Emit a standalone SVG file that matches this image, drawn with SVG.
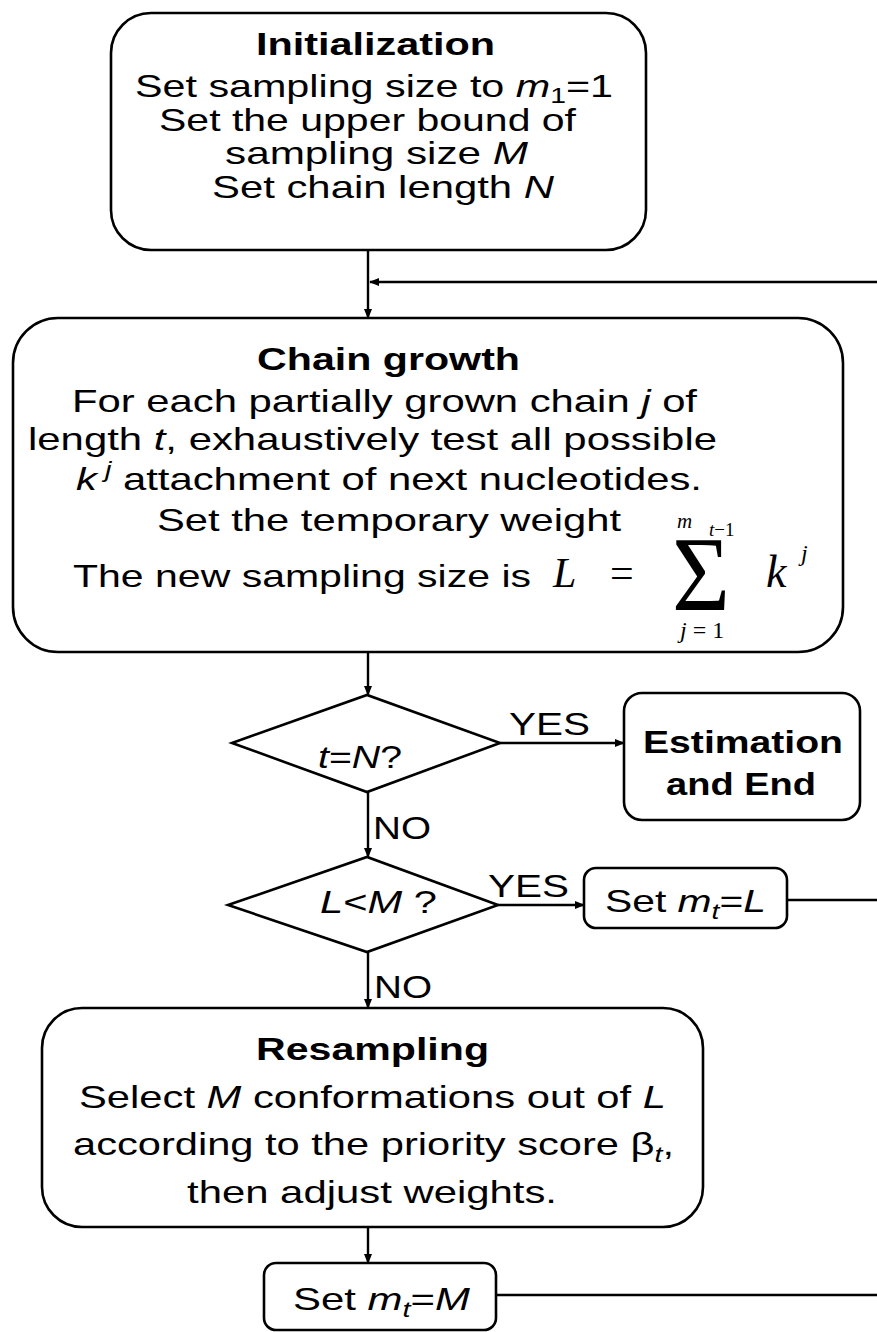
<svg xmlns="http://www.w3.org/2000/svg" width="877" height="1332" viewBox="0 0 877 1332">
<style>
.box{fill:#fff;stroke:#000;stroke-width:2.6}
.ln{fill:none;stroke:#000;stroke-width:2.4}
.t{font-family:"Liberation Sans",Arial,sans-serif;font-size:32px;fill:#000}
.b{font-weight:bold}
.i{font-style:italic}
.m{font-family:"Liberation Serif","Times New Roman",serif;fill:#000}
</style>
<defs>
<marker id="ah" markerWidth="10" markerHeight="8" refX="9" refY="4" orient="auto" markerUnits="userSpaceOnUse">
<path d="M0,0 L10,4 L0,8 Z" fill="#000"/>
</marker>
</defs>
<g id="connectors">
<line class="ln" x1="368" y1="250" x2="368" y2="318" marker-end="url(#ah)"/>
<line class="ln" x1="877" y1="282" x2="370" y2="282" marker-end="url(#ah)"/>
<line class="ln" x1="368" y1="652" x2="368" y2="695" marker-end="url(#ah)"/>
<line class="ln" x1="500" y1="743" x2="624" y2="743" marker-end="url(#ah)"/>
<line class="ln" x1="368" y1="792" x2="368" y2="857" marker-end="url(#ah)"/>
<line class="ln" x1="498" y1="905" x2="584" y2="905" marker-end="url(#ah)"/>
<line class="ln" x1="787" y1="900" x2="877" y2="900"/>
<line class="ln" x1="368" y1="952" x2="368" y2="1008" marker-end="url(#ah)"/>
<line class="ln" x1="368" y1="1227" x2="368" y2="1263" marker-end="url(#ah)"/>
<line class="ln" x1="496" y1="1295" x2="877" y2="1295"/>
<text class="t" x="509" y="735" textLength="81" lengthAdjust="spacingAndGlyphs">YES</text>
<text class="t" x="373" y="839" textLength="58" lengthAdjust="spacingAndGlyphs">NO</text>
<text class="t" x="488" y="897" textLength="81" lengthAdjust="spacingAndGlyphs">YES</text>
<text class="t" x="374" y="998" textLength="58" lengthAdjust="spacingAndGlyphs">NO</text>
</g>
<g id="init">
<rect class="box" x="111" y="13" width="535" height="237" rx="40"/>
<text class="t b" x="256" y="55" font-size="31" textLength="239" lengthAdjust="spacingAndGlyphs">Initialization</text>
<text class="t" x="135" y="97" font-size="33" textLength="478" lengthAdjust="spacingAndGlyphs">Set sampling size to <tspan class="i">m</tspan><tspan font-size="22" dy="6">1</tspan><tspan dy="-6">=1</tspan></text>
<text class="t" x="159" y="131" font-size="33" textLength="417" lengthAdjust="spacingAndGlyphs">Set the upper bound of</text>
<text class="t" x="225" y="164" font-size="33" textLength="303" lengthAdjust="spacingAndGlyphs">sampling size <tspan class="i">M</tspan></text>
<text class="t" x="212" y="198" font-size="33" textLength="342" lengthAdjust="spacingAndGlyphs">Set chain length <tspan class="i">N</tspan></text>
</g>
<g id="chain">
<rect class="box" x="13" y="318" width="830" height="334" rx="45"/>
<text class="t b" x="257" y="370" font-size="34" textLength="263" lengthAdjust="spacingAndGlyphs">Chain growth</text>
<text class="t" x="72" y="412" font-size="36" textLength="625" lengthAdjust="spacingAndGlyphs">For each partially grown chain <tspan class="i">j</tspan> of</text>
<text class="t" x="28" y="450" font-size="36" textLength="689" lengthAdjust="spacingAndGlyphs">length <tspan class="i">t</tspan>, exhaustively test all possible</text>
<text class="t" x="76" y="490" font-size="36" textLength="626" lengthAdjust="spacingAndGlyphs"><tspan class="i">k</tspan><tspan class="i" font-size="22" dy="-13"> j</tspan><tspan dy="13"> attachment of next nucleotides.</tspan></text>
<text class="t" x="157" y="531" font-size="36" textLength="464" lengthAdjust="spacingAndGlyphs">Set the temporary weight</text>
<text class="t" x="73" y="587" font-size="36" textLength="458" lengthAdjust="spacingAndGlyphs">The new sampling size is</text>
<text class="m i" x="553" y="587" font-size="42">L</text>
<text class="m" x="610" y="587" font-size="42">=</text>
<text class="m" x="672" y="610" font-size="106" textLength="58" lengthAdjust="spacingAndGlyphs">Σ</text>
<text class="m i" x="766" y="587" font-size="46">k</text>
<text class="m i" x="801" y="561" font-size="24">j</text>
<text class="m i" x="677" y="528" font-size="21">m</text>
<text class="m" x="709" y="536" font-size="19"><tspan class="i">t</tspan>−1</text>
<text class="m" x="680" y="638" font-size="24"><tspan class="i">j</tspan> = 1</text>
</g>
<g id="d1">
<polygon class="box" points="232,743 367,695 500,743 367,792"/>
<text class="t" x="318" y="768" textLength="84" lengthAdjust="spacingAndGlyphs"><tspan class="i">t</tspan>=<tspan class="i">N</tspan>?</text>
</g>
<g id="est">
<rect class="box" x="624" y="693" width="236" height="127" rx="18"/>
<text class="t b" x="643" y="753" font-size="35" textLength="200" lengthAdjust="spacingAndGlyphs">Estimation</text>
<text class="t b" x="666" y="795" font-size="35" textLength="150" lengthAdjust="spacingAndGlyphs">and End</text>
</g>
<g id="d2">
<polygon class="box" points="228,905 367,857 498,905 367,952"/>
<text class="t" x="320" y="913" textLength="117" lengthAdjust="spacingAndGlyphs"><tspan class="i">L</tspan>&lt;<tspan class="i">M</tspan> ?</text>
</g>
<g id="setL">
<rect class="box" x="584" y="868" width="203" height="60" rx="12"/>
<text class="t" x="605" y="912" font-size="34" textLength="161" lengthAdjust="spacingAndGlyphs">Set <tspan class="i">m</tspan><tspan class="i" font-size="22" dy="7">t</tspan><tspan dy="-7">=</tspan><tspan class="i">L</tspan></text>
</g>
<g id="resampling">
<rect class="box" x="42" y="1008" width="661" height="219" rx="40"/>
<text class="t b" x="256" y="1060" font-size="33" textLength="233" lengthAdjust="spacingAndGlyphs">Resampling</text>
<text class="t" x="79" y="1108" font-size="35" textLength="587" lengthAdjust="spacingAndGlyphs">Select <tspan class="i">M</tspan> conformations out of <tspan class="i">L</tspan></text>
<text class="t" x="73" y="1155" font-size="35" textLength="601" lengthAdjust="spacingAndGlyphs">according to the priority score β<tspan class="i" font-size="22" dy="7">t</tspan><tspan dy="-7">,</tspan></text>
<text class="t" x="187" y="1203" font-size="35" textLength="370" lengthAdjust="spacingAndGlyphs">then adjust weights.</text>
</g>
<g id="setM">
<rect class="box" x="264" y="1263" width="232" height="67" rx="12"/>
<text class="t" x="293" y="1310" font-size="34" textLength="177" lengthAdjust="spacingAndGlyphs">Set <tspan class="i">m</tspan><tspan class="i" font-size="22" dy="7">t</tspan><tspan dy="-7">=</tspan><tspan class="i">M</tspan></text>
</g>
</svg>
